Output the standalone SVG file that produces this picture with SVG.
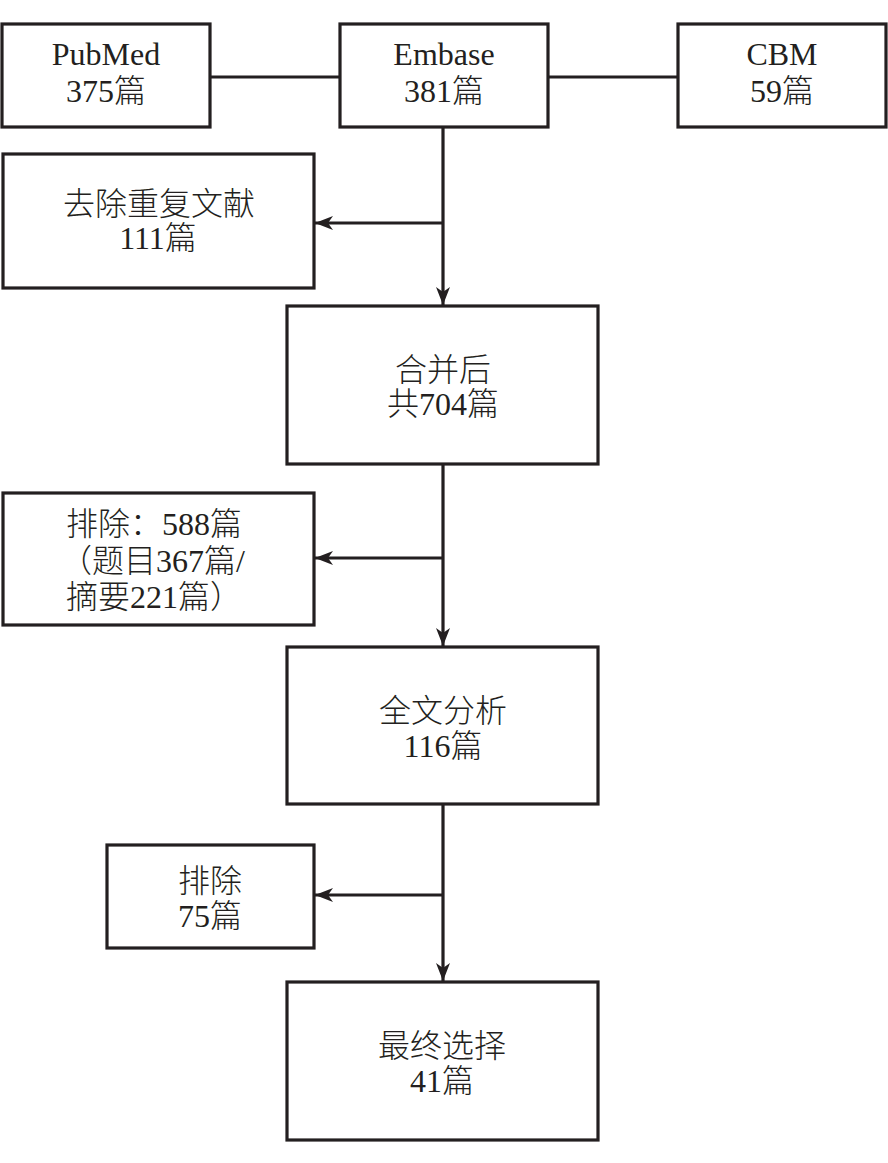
<svg xmlns="http://www.w3.org/2000/svg" width="888" height="1163" viewBox="0 0 888 1163">
<style>
.box{fill:#fff;stroke:#231f20;stroke-width:3.2}
.t{font-family:"Liberation Serif",serif;font-size:32px;fill:#231f20;text-anchor:middle}
.tl{text-anchor:start}
.k{font-family:"Noto Sans CJK SC",sans-serif;font-weight:300;font-size:32px}
.c{fill:none;stroke:#231f20;stroke-width:3.2}
</style>
<defs>
<marker id="ah" markerUnits="userSpaceOnUse" markerWidth="20" markerHeight="16" refX="18" refY="7" orient="auto">
<path d="M0,0 L18,7 L0,14 L5,7 z" fill="#231f20"/>
</marker>
</defs>
<rect width="888" height="1163" fill="#fff"/>
<g id="connectors">
<line class="c" x1="210" y1="77" x2="340" y2="77"/>
<line class="c" x1="548" y1="77" x2="678" y2="77"/>
<line class="c" x1="443" y1="127" x2="443" y2="305" marker-end="url(#ah)"/>
<line class="c" x1="443" y1="223" x2="315" y2="223" marker-end="url(#ah)"/>
<line class="c" x1="443" y1="464" x2="443" y2="646" marker-end="url(#ah)"/>
<line class="c" x1="443" y1="558" x2="315" y2="558" marker-end="url(#ah)"/>
<line class="c" x1="443" y1="804" x2="443" y2="981" marker-end="url(#ah)"/>
<line class="c" x1="443" y1="895" x2="315" y2="895" marker-end="url(#ah)"/>
</g>
<g id="pubmed">
<rect class="box" x="2" y="24" width="208" height="103"/>
<text class="t" x="106" y="65">PubMed</text>
<text class="t" x="106" y="102">375<tspan class="k">篇</tspan></text>
</g>
<g id="embase">
<rect class="box" x="340" y="24" width="208" height="103"/>
<text class="t" x="444" y="65">Embase</text>
<text class="t" x="444" y="102">381<tspan class="k">篇</tspan></text>
</g>
<g id="cbm">
<rect class="box" x="678" y="24" width="208" height="103"/>
<text class="t" x="782" y="65">CBM</text>
<text class="t" x="782" y="102">59<tspan class="k">篇</tspan></text>
</g>
<g id="dedup">
<rect class="box" x="3" y="154" width="311" height="134"/>
<text class="t" x="159" y="215"><tspan class="k">去除重复文献</tspan></text>
<text class="t" x="158" y="249">111<tspan class="k">篇</tspan></text>
</g>
<g id="merged">
<rect class="box" x="287" y="306" width="311" height="158"/>
<text class="t" x="443" y="381"><tspan class="k">合并后</tspan></text>
<text class="t" x="443" y="415"><tspan class="k">共</tspan>704<tspan class="k">篇</tspan></text>
</g>
<g id="excluded1">
<rect class="box" x="3" y="493" width="311" height="132"/>
<text class="t tl" x="66" y="535"><tspan class="k">排除：</tspan>588<tspan class="k">篇</tspan></text>
<text class="t tl" x="60" y="572"><tspan class="k">（题目</tspan>367<tspan class="k">篇</tspan>/</text>
<text class="t tl" x="66" y="608"><tspan class="k">摘要</tspan>221<tspan class="k">篇）</tspan></text>
</g>
<g id="fulltext">
<rect class="box" x="287" y="647" width="311" height="157"/>
<text class="t" x="443" y="722"><tspan class="k">全文分析</tspan></text>
<text class="t" x="443" y="757">116<tspan class="k">篇</tspan></text>
</g>
<g id="excluded2">
<rect class="box" x="107" y="845" width="207" height="103"/>
<text class="t" x="210" y="892"><tspan class="k">排除</tspan></text>
<text class="t" x="210" y="927">75<tspan class="k">篇</tspan></text>
</g>
<g id="final">
<rect class="box" x="287" y="982" width="311" height="158"/>
<text class="t" x="442" y="1057"><tspan class="k">最终选择</tspan></text>
<text class="t" x="442" y="1092">41<tspan class="k">篇</tspan></text>
</g>
</svg>
